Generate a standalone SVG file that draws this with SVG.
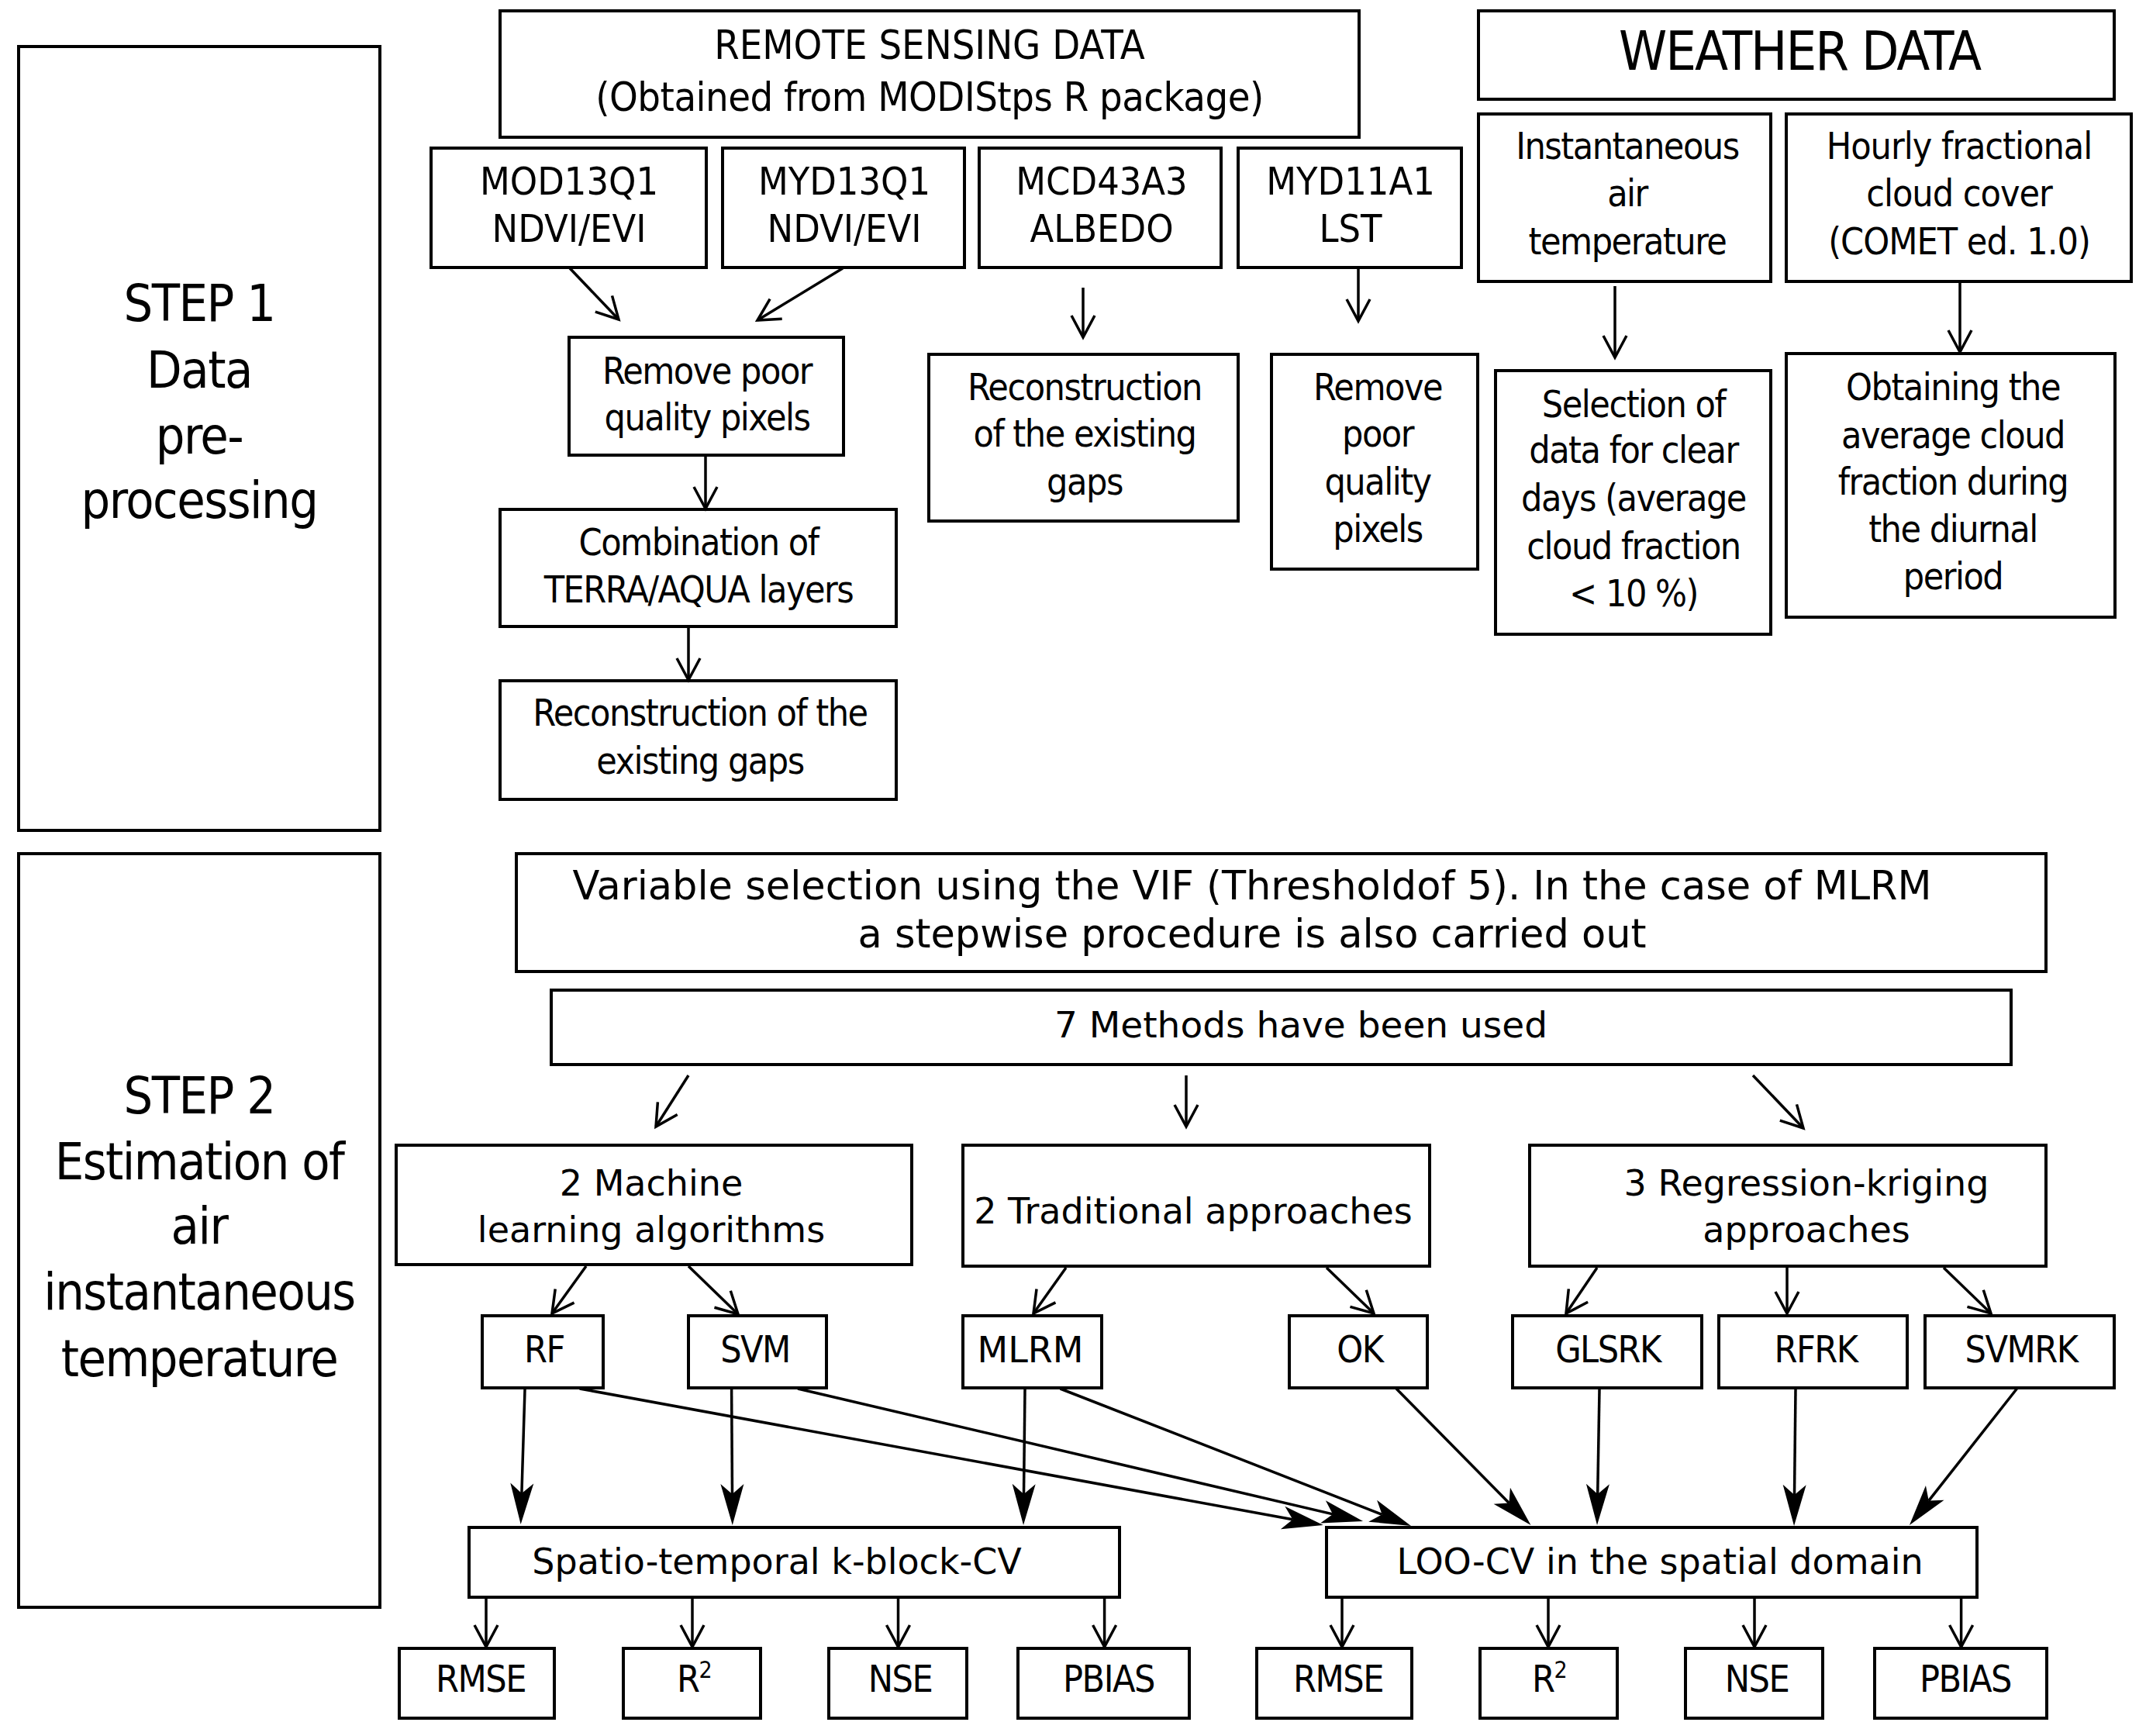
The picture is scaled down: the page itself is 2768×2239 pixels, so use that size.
<svg xmlns="http://www.w3.org/2000/svg" width="2768" height="2239" viewBox="0 0 2768 2239">
<style>
rect{fill:#fff;stroke:#000;stroke-width:4}
.c{font-family:"DejaVu Sans Condensed","DejaVu Sans",sans-serif;text-anchor:middle;fill:#000;font-size:48px;letter-spacing:-1.5px}
.n{font-family:"DejaVu Sans",sans-serif;text-anchor:middle;fill:#000;font-size:46px}
.st{font-size:66px;letter-spacing:-1.5px}
.t50{font-size:50px;letter-spacing:0}
.ln{stroke:#000;stroke-width:3.5;fill:none}
.o{marker-end:url(#ao)}
.f{marker-end:url(#af)}
</style>
<defs>
<marker id="ao" markerUnits="userSpaceOnUse" viewBox="-34 -20 42 40" markerWidth="42" markerHeight="40" refX="0" refY="0" orient="auto">
<path d="M-28,-15 L0,0 L-28,15" fill="none" stroke="#000" stroke-width="3.5"/>
</marker>
<marker id="af" markerUnits="userSpaceOnUse" viewBox="-16 -18 60 36" markerWidth="60" markerHeight="36" refX="0" refY="0" orient="auto">
<path d="M40,0 L-13,-15 L0,0 L-13,15 Z" fill="#000"/>
</marker>
</defs>
<rect x="0" y="0" width="2768" height="2239" style="stroke:none"/>

<g id="step1"><rect x="24" y="60" width="466" height="1011"/>
<text class="c st" x="257" y="414">STEP 1</text><text class="c st" x="257" y="500">Data</text><text class="c st" x="257" y="585">pre-</text><text class="c st" x="257" y="668">processing</text></g>
<g id="step2"><rect x="24" y="1101" width="466" height="972"/>
<text class="c st" x="257" y="1436">STEP 2</text><text class="c st" x="257" y="1521">Estimation of</text><text class="c st" x="257" y="1604">air</text><text class="c st" x="257" y="1689">instantaneous</text><text class="c st" x="257" y="1775">temperature</text></g>

<g id="remote"><rect x="645" y="14" width="1108" height="163"/>
<text class="c" x="1199" y="76" style="font-size:52px;letter-spacing:0">REMOTE SENSING DATA</text>
<text class="c" x="1199" y="143" style="font-size:52px;letter-spacing:-0.5px">(Obtained from MODIStps R package)</text></g>
<g id="mod13"><rect x="556" y="191" width="355" height="154"/>
<text class="c t50" x="734" y="251">MOD13Q1</text><text class="c t50" x="734" y="312">NDVI/EVI</text></g>
<g id="myd13"><rect x="932" y="191" width="312" height="154"/>
<text class="c t50" x="1089" y="251">MYD13Q1</text><text class="c t50" x="1089" y="312">NDVI/EVI</text></g>
<g id="mcd43"><rect x="1263" y="191" width="312" height="154"/>
<text class="c t50" x="1421" y="251">MCD43A3</text><text class="c t50" x="1421" y="312">ALBEDO</text></g>
<g id="myd11"><rect x="1597" y="191" width="288" height="154"/>
<text class="c t50" x="1742" y="251">MYD11A1</text><text class="c t50" x="1742" y="312">LST</text></g>

<g id="weather"><rect x="1907" y="14" width="820" height="114"/>
<text class="c" x="2321" y="90" style="font-size:70px;letter-spacing:-2px">WEATHER DATA</text></g>
<g id="inst"><rect x="1907" y="147" width="377" height="216"/>
<text class="c" x="2099" y="205">Instantaneous</text><text class="c" x="2099" y="266">air</text><text class="c" x="2099" y="328">temperature</text></g>
<g id="hourly"><rect x="2304" y="147" width="445" height="216"/>
<text class="c" x="2527" y="205" style="letter-spacing:-1px">Hourly fractional</text><text class="c" x="2527" y="266" style="letter-spacing:-1px">cloud cover</text><text class="c" x="2527" y="328" style="letter-spacing:-1px">(COMET ed. 1.0)</text></g>

<g id="removeL"><rect x="734" y="435" width="354" height="152"/>
<text class="c" x="912" y="495">Remove poor</text><text class="c" x="912" y="555">quality pixels</text></g>
<g id="comb"><rect x="645" y="657" width="511" height="151"/>
<text class="c" x="901" y="716">Combination of</text><text class="c" x="901" y="777">TERRA/AQUA layers</text></g>
<g id="recon1"><rect x="645" y="878" width="511" height="153"/>
<text class="c" x="903" y="936">Reconstruction of the</text><text class="c" x="903" y="998">existing gaps</text></g>
<g id="recon2"><rect x="1198" y="457" width="399" height="215"/>
<text class="c" x="1399" y="516">Reconstruction</text><text class="c" x="1399" y="576">of the existing</text><text class="c" x="1399" y="638">gaps</text></g>
<g id="removeR"><rect x="1640" y="457" width="266" height="277"/>
<text class="c" x="1777" y="516">Remove</text><text class="c" x="1777" y="576">poor</text><text class="c" x="1777" y="638">quality</text><text class="c" x="1777" y="699">pixels</text></g>
<g id="select"><rect x="1929" y="478" width="355" height="340"/>
<text class="c" x="2107" y="538">Selection of</text><text class="c" x="2107" y="597">data for clear</text><text class="c" x="2107" y="659">days (average</text><text class="c" x="2107" y="721">cloud fraction</text><text class="c" x="2107" y="782">&lt; 10 %)</text></g>
<g id="obtain"><rect x="2304" y="456" width="424" height="340"/>
<text class="c" x="2519" y="516">Obtaining the</text><text class="c" x="2519" y="578">average cloud</text><text class="c" x="2519" y="638">fraction during</text><text class="c" x="2519" y="699">the diurnal</text><text class="c" x="2519" y="760">period</text></g>

<g id="varsel"><rect x="666" y="1101" width="1973" height="152"/>
<text class="n" x="1615" y="1160" style="font-size:51px">Variable selection using the VIF (Thresholdof 5). In the case of MLRM</text>
<text class="n" x="1615" y="1222" style="font-size:51px">a stepwise procedure is also carried out</text></g>
<g id="methods"><rect x="711" y="1277" width="1883" height="96"/>
<text class="n" x="1678" y="1338" style="font-size:47px">7 Methods have been used</text></g>
<g id="ml"><rect x="511" y="1477" width="665" height="154"/>
<text class="n" x="840" y="1542">2 Machine</text><text class="n" x="840" y="1602">learning algorithms</text></g>
<g id="trad"><rect x="1242" y="1477" width="602" height="156"/>
<text class="n" x="1539" y="1578">2 Traditional approaches</text></g>
<g id="rk"><rect x="1973" y="1477" width="666" height="156"/>
<text class="n" x="2330" y="1542">3 Regression-kriging</text><text class="n" x="2330" y="1602">approaches</text></g>

<g id="rf"><rect x="622" y="1697" width="156" height="93"/><text class="c" x="702" y="1757">RF</text></g>
<g id="svm"><rect x="888" y="1697" width="178" height="93"/><text class="c" x="974" y="1757">SVM</text></g>
<g id="mlrm"><rect x="1242" y="1697" width="179" height="93"/><text class="n" x="1329" y="1757">MLRM</text></g>
<g id="ok"><rect x="1663" y="1697" width="178" height="93"/><text class="c" x="1754" y="1757">OK</text></g>
<g id="glsrk"><rect x="1951" y="1697" width="244" height="93"/><text class="c" x="2074" y="1757">GLSRK</text></g>
<g id="rfrk"><rect x="2217" y="1697" width="243" height="93"/><text class="c" x="2342" y="1757">RFRK</text></g>
<g id="svmrk"><rect x="2483" y="1697" width="244" height="93"/><text class="c" x="2607" y="1757">SVMRK</text></g>

<g id="spatio"><rect x="605" y="1970" width="839" height="90"/><text class="n" x="1002" y="2030">Spatio-temporal k-block-CV</text></g>
<g id="loo"><rect x="1711" y="1970" width="839" height="90"/><text class="n" x="2141" y="2030">LOO-CV in the spatial domain</text></g>

<g id="rmse1"><rect x="515" y="2126" width="200" height="90"/><text class="c" x="620" y="2182">RMSE</text></g>
<g id="r2a"><rect x="804" y="2126" width="177" height="90"/><text class="c" x="895" y="2182">R<tspan dy="-18" style="font-size:30px">2</tspan></text></g>
<g id="nse1"><rect x="1069" y="2126" width="178" height="90"/><text class="c" x="1161" y="2182">NSE</text></g>
<g id="pbias1"><rect x="1313" y="2126" width="221" height="90"/><text class="c" x="1430" y="2182">PBIAS</text></g>
<g id="rmse2"><rect x="1621" y="2126" width="200" height="90"/><text class="c" x="1726" y="2182">RMSE</text></g>
<g id="r2b"><rect x="1909" y="2126" width="177" height="90"/><text class="c" x="1998" y="2182">R<tspan dy="-18" style="font-size:30px">2</tspan></text></g>
<g id="nse2"><rect x="2174" y="2126" width="177" height="90"/><text class="c" x="2266" y="2182">NSE</text></g>
<g id="pbias2"><rect x="2418" y="2126" width="222" height="90"/><text class="c" x="2535" y="2182">PBIAS</text></g>

<g id="connectors">
<line class="ln o" x1="735" y1="346" x2="798" y2="412"/>
<line class="ln o" x1="1087" y1="346" x2="977" y2="413"/>
<line class="ln o" x1="910" y1="589" x2="910" y2="656"/>
<line class="ln o" x1="888" y1="810" x2="888" y2="877"/>
<line class="ln o" x1="1397" y1="371" x2="1397" y2="435"/>
<line class="ln o" x1="1752" y1="347" x2="1752" y2="414"/>
<line class="ln o" x1="2083" y1="369" x2="2083" y2="461"/>
<line class="ln o" x1="2528" y1="365" x2="2528" y2="454"/>
<line class="ln o" x1="888" y1="1387" x2="846" y2="1453"/>
<line class="ln o" x1="1530" y1="1387" x2="1530" y2="1453"/>
<line class="ln o" x1="2261" y1="1387" x2="2326" y2="1455"/>
<line class="ln o" x1="756" y1="1633" x2="712" y2="1694"/>
<line class="ln o" x1="888" y1="1633" x2="952" y2="1695"/>
<line class="ln o" x1="1375" y1="1635" x2="1333" y2="1694"/>
<line class="ln o" x1="1711" y1="1635" x2="1772" y2="1694"/>
<line class="ln o" x1="2060" y1="1635" x2="2020" y2="1694"/>
<line class="ln o" x1="2305" y1="1635" x2="2305" y2="1694"/>
<line class="ln o" x1="2507" y1="1635" x2="2568" y2="1694"/>
<line class="ln f" x1="677" y1="1792" x2="672.9" y2="1926"/>
<line class="ln f" x1="943.6" y1="1792" x2="944.5" y2="1927"/>
<line class="ln f" x1="1322" y1="1792" x2="1320.5" y2="1927"/>
<line class="ln f" x1="747.6" y1="1791" x2="1667.4" y2="1959.8"/>
<line class="ln f" x1="1029" y1="1791" x2="1719.1" y2="1952.9"/>
<line class="ln f" x1="1367.5" y1="1791" x2="1782.7" y2="1953.4"/>
<line class="ln f" x1="1801" y1="1791" x2="1946.4" y2="1938.5"/>
<line class="ln f" x1="2063" y1="1792" x2="2060.7" y2="1927"/>
<line class="ln f" x1="2316" y1="1792" x2="2314.5" y2="1928"/>
<line class="ln f" x1="2601.5" y1="1791" x2="2487.7" y2="1935.6"/>
<line class="ln o" x1="627" y1="2062" x2="627" y2="2124"/>
<line class="ln o" x1="893" y1="2062" x2="893" y2="2124"/>
<line class="ln o" x1="1158.5" y1="2062" x2="1158.5" y2="2124"/>
<line class="ln o" x1="1424.6" y1="2062" x2="1424.6" y2="2124"/>
<line class="ln o" x1="1731" y1="2062" x2="1731" y2="2124"/>
<line class="ln o" x1="1997" y1="2062" x2="1997" y2="2124"/>
<line class="ln o" x1="2263" y1="2062" x2="2263" y2="2124"/>
<line class="ln o" x1="2529.6" y1="2062" x2="2529.6" y2="2124"/>
</g>
</svg>
